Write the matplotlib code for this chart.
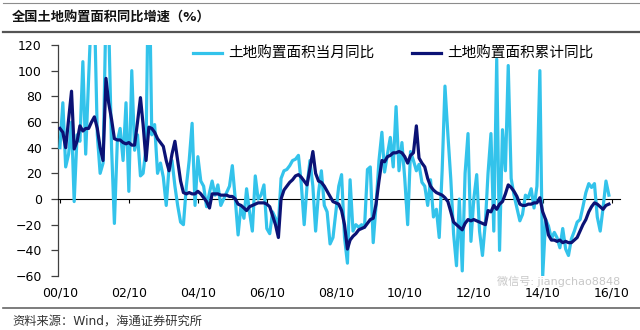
import matplotlib
matplotlib.use("Agg")
import matplotlib.pyplot as plt
import matplotlib.dates as mdates
from matplotlib.lines import Line2D
import pandas as pd

LIGHT = "#33C3EB"
DARK = "#0B1275"
GRAY = "#8C8C8C"

plt.rcParams["font.family"] = ["DejaVu Sans", "Noto Sans CJK SC"]

# 月度数据：2000/10 - 2016/09
months = pd.date_range("2000-10-01", periods=192, freq="MS")

# 土地购置面积当月同比（%）
monthly_yoy = [
    40, 75, 25,                                                  # 2000 Oct-Dec
    35, 60, -2, 50, 45, 107, 35, 94, 150, 150, 50, 20,           # 2001
    28, 150, 140, 40, -19, 45, 55, 30, 75, 6, 100, 38,           # 2002
    50, 18, 20, 40, 200, 50, 58, 20, 28, 17, -5, 25,             # 2003
    30, 10, -5, -18, -20, 10, 30, 59, -5, 33, 14, 10,            # 2004
    -6, 5, 14, 3, 11, -5, 0, 5, 10, 26, 0, -28,                  # 2005
    -5, -15, 8, -10, -25, 18, 0, 3, 11, -23, -27, -10,           # 2006
    -15, -20, 16, 22, 23, 26, 30, 31, 34, 12, -20, 10,           # 2007
    30, 10, -25, 5, 22, -5, -10, -35, -30, -10, 10, 19,          # 2008
    -30, -50, 15, -25, -20, -22, -20, -22, 23, 25, -34, -5,      # 2009
    30, 52, 21, 35, 48, 25, 72, 22, 44, 16, -20, 37,             # 2010
    30, 22, 27, 13, 10, -5, 15, -14, -8, -30, 22, 88,            # 2011
    50, 15, -27, -52, 0, -56, 20, 51, -33, 0, 19, -25,           # 2012
    -44, -18, 20, 51, -25, 109, -40, 54, 22, 104, 16, 3,         # 2013
    -7, -17, -12, 3, 1, 8, -7, 10, 100, -60, -16, -21,           # 2014
    -31, -26, -30, -38, -23, -39, -44, -31, -25, -18, -16, -6,   # 2015
    5, 12, 9, 12, -14, -25, -7, 14, 3,                           # 2016 Jan-Sep
]

# 土地购置面积累计同比（%）
cumulative_yoy = [
    55, 52, 40,
    62, 84, 39, 45, 57, 53, 55, 55, 60, 64, 55, 40,
    30, 94, 75, 62, 47, 46, 46, 44, 43, 44, 42, 42,
    60, 79, 58, 30, 56, 55, 52, 47, 44, 41, 30, 22,
    35, 45, 30, 14, 5, 4, 5, 4, 4, 6, 4, 1,
    -2, -7, 4, 4, 4, 3, 3, 3, 2, 2, 0, -4,
    -5, -7, -9, -6, -5, -4, -3, -3, -3, -4, -6, -13,
    -20, -30, 0, 7, 10, 13, 15, 18, 19, 17, 14, 11,
    24, 37, 20, 14, 13, 10, 6, 2, -2, -3, -4, -9,
    -20, -39, -32, -29, -27, -24, -23, -22, -19, -16, -15, -4,
    14, 30, 29, 33, 34, 36, 36, 37, 36, 33, 28, 34,
    36, 57, 32, 28, 25, 16, 10, 7, 5, 4, 3, 1,
    -2, -10, -18, -20, -22, -24, -19, -16, -17, -16, -17, -18,
    -19, -20, -9, -10, -5, -8, -4, -2, 4, 11, 9, 6,
    2, -4, -5, -5, -4, -4, -3, -3, 1, -10, -16, -28,
    -32, -32, -33, -32, -34, -33, -34, -34, -32, -30, -25, -20,
    -16, -10, -6, -3, -4, -6, -8, -5, -4,
]

series_names = ["土地购置面积当月同比", "土地购置面积累计同比"]
tick_dates = pd.date_range("2000-10-01", "2016-10-01", freq="24MS")

fig = plt.figure(figsize=(6.4, 3.3), dpi=100)
ax = fig.add_axes([0.0914, 0.1636, 0.878, 0.70])

ax.plot(months, monthly_yoy, color=LIGHT, lw=2.3, label=series_names[0], zorder=3)
ax.plot(months, cumulative_yoy, color=DARK, lw=2.3, label=series_names[1], zorder=4)

ax.set_ylim(-60, 120)
ax.set_yticks(range(-60, 121, 20))
ax.set_xlim(pd.Timestamp("2000-09-16"), pd.Timestamp("2017-01-01"))
ax.set_xticks(tick_dates)
ax.xaxis.set_major_formatter(mdates.DateFormatter("%y/%m"))

# 横轴放在 0 处，刻度标签放在底部
for s in ["top", "right"]:
    ax.spines[s].set_visible(False)
ax.spines["bottom"].set_position(("data", 0))
ax.spines["bottom"].set_color("black")
ax.spines["bottom"].set_linewidth(0.8)
ax.spines["left"].set_color("#404040")
ax.spines["left"].set_linewidth(0.9)
ax.tick_params(axis="y", direction="out", length=5, width=0.9, pad=7,
               labelsize=9, colors="#404040", labelcolor="black")
ax.tick_params(axis="x", direction="out", length=3, width=0.8, pad=60,
               labelsize=9, labelcolor="black")

fig.legend(loc="upper left", bbox_to_anchor=(0.3016, 0.86), ncol=2, frameon=False,
           fontsize=10.5, handlelength=2.0, handletextpad=0.4, columnspacing=2.6,
           borderpad=0, borderaxespad=0)

# 标题、分隔线、资料来源
fig.add_artist(Line2D([0.005, 1], [1 - 3 / 330] * 2, color=GRAY, lw=0.8))
fig.text(12 / 640, 1 - 18 / 330, "全国土地购置面积同比增速（%）", fontsize=9.5,
         fontweight="bold", va="center", ha="left", color="#111111")
fig.add_artist(Line2D([0.005, 1], [1 - 32 / 330] * 2, color="#555555", lw=1.6))
fig.add_artist(Line2D([0.005, 1], [1 - 308 / 330] * 2, color="#666666", lw=1.2))
fig.text(12 / 640, 1 - 321 / 330, "资料来源：Wind，海通证券研究所", fontsize=8.8,
         va="center", ha="left", color="#333333")

# 水印
fig.text(620 / 640, 1 - 281 / 330, "微信号: jiangchao8848", fontsize=8,
         va="center", ha="right", color="#c8c8c8", zorder=0)

fig.savefig("out.png", dpi=100, facecolor="white")
